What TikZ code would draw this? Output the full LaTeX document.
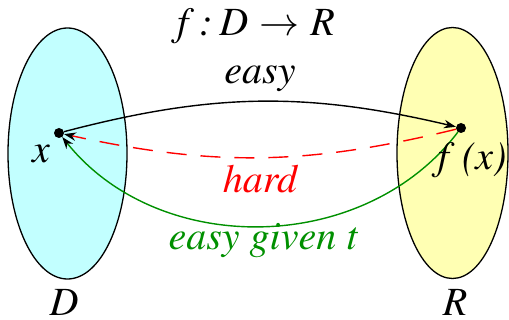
\documentclass[tikz,border=0pt]{standalone}
\usepackage[T1]{fontenc}
\usepackage{mathptmx}
\usepackage{tikz}
\usetikzlibrary{arrows.meta,shapes.geometric}
\definecolor{setCyan}{HTML}{C2FFFF}
\definecolor{setYellow}{HTML}{FFFFB3}
\definecolor{hardRed}{HTML}{FF0000}
\definecolor{trapGreen}{HTML}{009000}
\tikzset{
  set blob/.style={draw=black,ellipse,line width=1.3pt,inner sep=0pt},
  point dot/.style={circle,fill=black,inner sep=0pt,minimum size=10pt},
  map arrow/.style={line width=1.4pt,-{Stealth[length=12pt,width=8.5pt,black]}},
  big label/.style={font=\fontsize{40}{44}\selectfont\itshape,inner sep=0pt,anchor=base}
}
\begin{document}
\begin{tikzpicture}[x=1pt,y=-1pt]
\useasboundingbox (0,0) rectangle (509,320);
\node[set blob,fill=setCyan,minimum width=119pt,minimum height=251pt] (D) at (67.5,153.5) {};
\node[set blob,fill=setYellow,minimum width=111pt,minimum height=251pt] (R) at (452.5,153) {};
\node[point dot] (px) at (59,133) {};
\node[point dot] (pfx) at (461,128) {};
\draw[map arrow] (px) to[bend left=14] (pfx);
\draw[map arrow,draw=hardRed,dash pattern=on 20pt off 14pt] (pfx) to[bend left=13] (px);
\draw[map arrow,draw=trapGreen] (pfx) to[bend left=52] (px);
\node[big label] (title) at (256,36) {f\;:\,D\;$\rightarrow$\;R};
\node[big label] (easy) at (260,84) {easy};
\node[big label,text=hardRed] (hard) at (260,193) {hard};
\node[big label,text=trapGreen] (given) at (263,250) {easy given t};
\node[big label] (nameD) at (64,316) {D};
\node[big label] (nameR) at (455,316) {R};
\node[big label] (namex) at (41,163) {x};
\node[big label] (namefx) at (472,170) {f\,\,(x)};
\end{tikzpicture}
\end{document}
